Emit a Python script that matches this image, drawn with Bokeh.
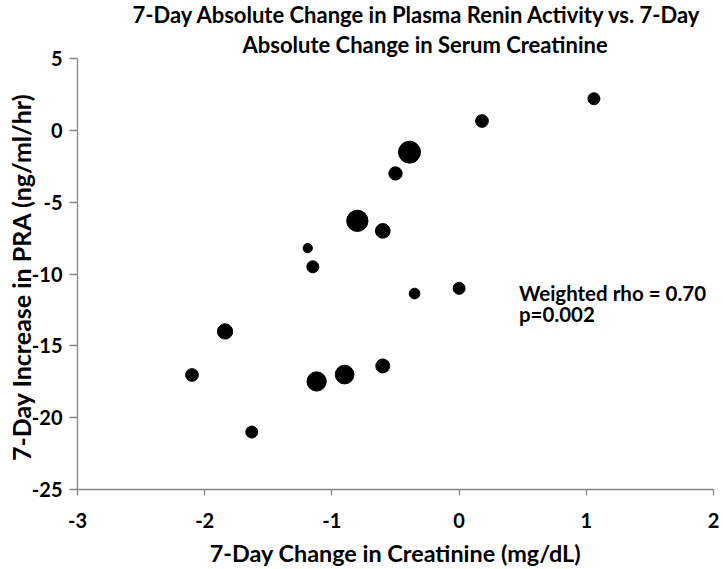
from bokeh.plotting import figure
from bokeh.models import Label, Range1d, FixedTicker, ColumnDataSource, Title
from bokeh.embed import file_html
from bokeh.resources import INLINE

# Data
creatinine_change = [1.06, 0.18, -0.39, -0.50, -0.80, -0.60, -1.19, -1.15,
                     -0.35, 0.00, -1.84, -2.10, -1.12, -0.90, -0.60, -1.63]
pra_change = [2.2, 0.65, -1.52, -3.0, -6.3, -7.0, -8.2, -9.5,
              -11.36, -11.0, -14.0, -17.03, -17.48, -17.0, -16.4, -21.0]
weight_size = [12, 12.7, 22, 13.3, 21.3, 14.7, 9.3, 12,
               10.7, 12, 15.3, 12.7, 19.3, 18.7, 14, 12]

x_ticks = [-3, -2, -1, 0, 1, 2]
y_ticks = [-25, -20, -15, -10, -5, 0, 5]

title_lines = ["7-Day Absolute Change in Plasma Renin Activity vs. 7-Day",
               "Absolute Change in Serum Creatinine"]
x_label = "7-Day Change in Creatinine (mg/dL)"
y_label = "7-Day Increase in PRA  (ng/ml/hr)"
stat_lines = ["Weighted rho = 0.70", "p=0.002"]

FONT = "Lato"

p = figure(width=723, height=569, output_backend="svg", toolbar_location=None,
           title=None,
           x_range=Range1d(-3, 2), y_range=Range1d(-25, 5),
           min_border_left=77, min_border_right=10, min_border_top=58, min_border_bottom=77)
p.outline_line_color = None
p.xgrid.visible = False
p.ygrid.visible = False

for ax, ticks, tout, stand in ((p.xaxis[0], x_ticks, 6, 17), (p.yaxis[0], y_ticks, 8, 7)):
    ax.ticker = FixedTicker(ticks=ticks)
    ax.major_label_overrides = {t: str(t) for t in ticks}
    ax.minor_tick_line_color = None
    ax.major_tick_in = 0
    ax.major_tick_out = tout
    ax.axis_line_color = "#868686"
    ax.major_tick_line_color = "#868686"
    ax.axis_line_width = 1.3
    ax.major_tick_line_width = 1.3
    ax.major_label_text_font = FONT
    ax.major_label_text_font_style = "bold"
    ax.major_label_text_font_size = "20px"
    ax.major_label_text_color = "black"
    ax.major_label_standoff = stand
    ax.axis_label_text_font = FONT
    ax.axis_label_text_font_style = "bold"
    ax.axis_label_text_color = "black"

p.xaxis[0].axis_label = x_label
p.xaxis[0].axis_label_text_font_size = "23.4px"
p.xaxis[0].axis_label_standoff = 8
p.yaxis[0].axis_label = y_label
p.yaxis[0].axis_label_text_font_size = "25px"
p.yaxis[0].axis_label_standoff = -7

# title: two lines, line nearest the frame added first
for text, off, valign, so in ((title_lines[1], 165, "bottom", 1),
                              (title_lines[0], 55, "top", -2)):
    p.add_layout(Title(text=text, align="left", offset=off, vertical_align=valign,
                       text_font=FONT, text_font_style="bold", text_font_size="22px",
                       text_color="black", standoff=so), "above")

src = ColumnDataSource(dict(x=creatinine_change, y=pra_change, s=weight_size))
p.scatter("x", "y", size="s", source=src, fill_color="black", line_color="black")

for i, t in enumerate(stat_lines):
    p.add_layout(Label(x=0.47, y=-11.29 - 1.46 * i, text=t, text_font=FONT,
                       text_font_style="bold", text_font_size="20.5px",
                       text_align="left", text_baseline="alphabetic", text_color="black"))

open("out.html", "w").write(file_html(p, INLINE))
